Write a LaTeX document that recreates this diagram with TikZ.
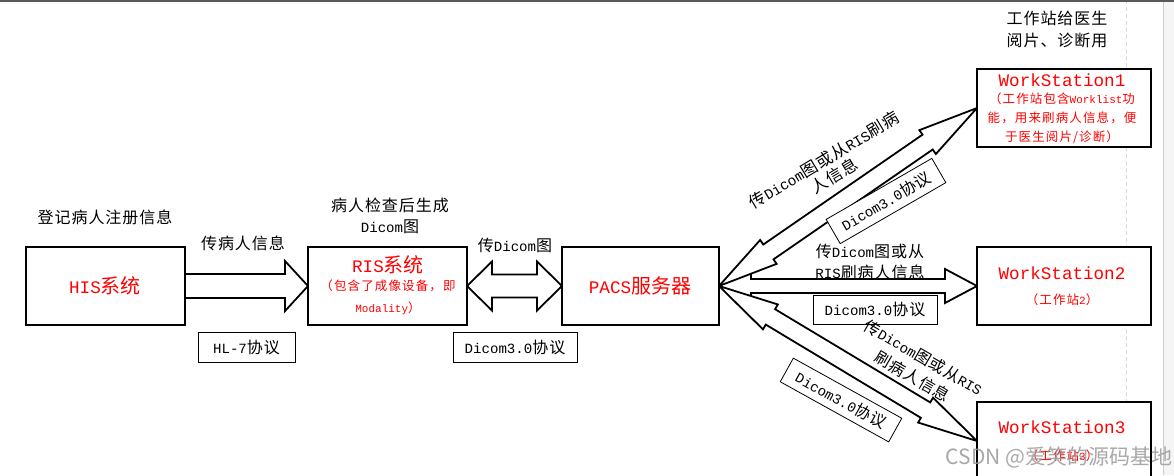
\documentclass[tikz,border=0pt]{standalone}
\usepackage{fontspec}
\setmainfont{Noto Sans CJK SC}
\newfontfamily\lmfam[Scale=0.88]{Liberation Mono}
\newcommand\lm[1]{{\lmfam #1}}
\usetikzlibrary{calc,backgrounds}
% double block arrow: #1 start, #2 end, #3 shaft half width, #4 head half width, #5 head length
\newcommand\blockdbl[5]{%
 \draw[blk] let \p1=($(#2)-(#1)$), \n1={atan2(\y1,\x1)} in
 (#1) -- ($(#1)!#5!(#2)+({\n1+90}:#4)$) -- ($(#1)!#5!(#2)+({\n1+90}:#3)$)
 -- ($(#2)!#5!(#1)+({\n1+90}:#3)$) -- ($(#2)!#5!(#1)+({\n1+90}:#4)$) -- (#2)
 -- ($(#2)!#5!(#1)+({\n1-90}:#4)$) -- ($(#2)!#5!(#1)+({\n1-90}:#3)$)
 -- ($(#1)!#5!(#2)+({\n1-90}:#3)$) -- ($(#1)!#5!(#2)+({\n1-90}:#4)$) -- cycle;}
% single block arrow
\newcommand\blocksgl[5]{%
 \draw[blk] let \p1=($(#2)-(#1)$), \n1={atan2(\y1,\x1)} in
 ($(#1)+({\n1+90}:#3)$) -- ($(#2)!#5!(#1)+({\n1+90}:#3)$) -- ($(#2)!#5!(#1)+({\n1+90}:#4)$) -- (#2)
 -- ($(#2)!#5!(#1)+({\n1-90}:#4)$) -- ($(#2)!#5!(#1)+({\n1-90}:#3)$) -- ($(#1)+({\n1-90}:#3)$) -- cycle;}
\newcommand\lblfont[2]{\fontsize{#1}{#2}\selectfont\addfontfeatures{LetterSpace=6}}
\newcommand\smallfont{\fontsize{12.5}{19}\selectfont\addfontfeatures{LetterSpace=9}}
\begin{document}
\begin{tikzpicture}[x=1pt,y=-1pt,
  box/.style={draw, line width=2pt, fill=white, minimum height=78pt, inner sep=0pt, outer sep=0pt},
  lbox/.style={draw, line width=0.8pt, fill=white, minimum height=30pt, inner sep=0pt, font=\lblfont{16}{20}},
  blk/.style={draw, line width=1.8pt, fill=white, line join=miter, miter limit=20},
  lbl/.style={inner sep=0pt, align=center, font=\lblfont{16}{20}},
  redbig/.style={inner sep=0pt, text=red, font=\fontsize{20}{24}\selectfont},
  redsmall/.style={inner sep=0pt, align=center, text=red, font=\smallfont}]
\path[use as bounding box, clip] (0,0) rectangle (1174,475);
% boxes
\node[box, minimum width=159pt] (his) at (105.5,286) {};
\node[box, minimum width=159pt] (ris) at (387.5,286) {};
\node[box, minimum width=157pt] (pacs) at (640.5,286) {};
\node[box, minimum width=174pt] (ws1) at (1064,108) {};
\node[box, minimum width=174pt] (ws2) at (1064,286) {};
\node[box, minimum width=174pt] (ws3) at (1064,441) {};
\begin{scope}[on background layer]
% page and screenshot artefacts
\fill[white] (0,0) rectangle (1174,475);
\fill[gray!8] (1163,0) rectangle (1174,475);
\draw[gray!40, line width=1pt] (1163,0) -- (1163,475);
\draw[gray!30, dash pattern=on 4pt off 3pt, line width=0.8pt] (1126,0) -- (1126,475);
\fill[gray!70!black] (0,0) rectangle (1174,1.5);
% block arrows
\blocksgl{his.east}{ris.west}{12pt}{25pt}{23pt}
\blockdbl{ris.east}{pacs.west}{11.5pt}{24.5pt}{25pt}
\blockdbl{pacs.east}{ws2.west}{7pt}{17pt}{32pt}
\blockdbl{pacs.east}{ws1.west}{9pt}{14.5pt}{60pt}
\blockdbl{pacs.east}{ws3.west}{9pt}{14.5pt}{60pt}
\end{scope}
% black labels
\node[lbl] (t1) at (105,217) {登记病人注册信息};
\node[lbl] (t2) at (243,243) {传病人信息};
\node[lbox, minimum width=97pt] (p1) at (246.5,347) {\lm{HL-7}协议};
\node[lbl, font=\lblfont{16}{21}] (t3) at (390,216) {病人检查后生成\\\lm{Dicom}图};
\node[lbl] (t4) at (515,245) {传\lm{Dicom}图};
\node[lbox, minimum width=124pt] (p2) at (515,347) {\lm{Dicom3.0}协议};
\node[lbl, font=\lblfont{16}{21}] (t5) at (870,261.5) {传\lm{Dicom}图或从\\\lm{RIS}刷病人信息};
\node[lbox, minimum width=124pt, minimum height=29pt] (p3) at (875,309.5) {\lm{Dicom3.0}协议};
\node[lbl, font=\lblfont{16}{22}] (t6) at (1057,29) {工作站给医生\\阅片、诊断用};
\node[lbl, rotate=31, font=\lblfont{16.5}{19}] (t7) at (829,168) {传\lm{Dicom}图或从\lm{RIS}刷病\\人信息};
\node[lbox, rotate=30, minimum width=122pt, minimum height=28pt] (p4) at (886,201) {\lm{Dicom3.0}协议};
\node[lbl, rotate=-30, font=\lblfont{16}{22}] (t8) at (918,367) {传\lm{Dicom}图或从\lm{RIS}\\刷病人信息};
\node[lbox, rotate=-29, minimum width=124pt, minimum height=27pt] (p5) at (841,400) {\lm{Dicom3.0}协议};
% red texts
\node[redbig] (h1) at (105,286) {\lm{HIS}系统};
\node[redbig] (r1) at (388,265) {\lm{RIS}系统};
\node[redsmall] (r2) at (388,286) {（包含了成像设备，即};
\node[redsmall] (r3) at (388,308) {\lm{Modality}）};
\node[redbig] (pc) at (640,286) {\lm{PACS}服务器};
\node[redbig] (w1) at (1062,80) {\lm{WorkStation1}};
\node[redsmall] (w1b) at (1062,118) {（工作站包含\lm{Worklist}功\\能，用来刷病人信息，便\\于医生阅片/诊断）};
\node[redbig] (w2) at (1062,273) {\lm{WorkStation2}};
\node[redsmall] (w2b) at (1062,300) {（工作站\lm{2}）};
\node[redbig] (w3) at (1062,427) {\lm{WorkStation3}};
\node[redsmall] (w3b) at (1062,456) {（工作站\lm{3}）};
% watermark
\node[inner sep=0pt, text=gray!80, opacity=0.85, font=\fontsize{21}{24}\selectfont] (wm) at (1059,457) {CSDN @爱笑的源码基地};
\end{tikzpicture}
\end{document}
